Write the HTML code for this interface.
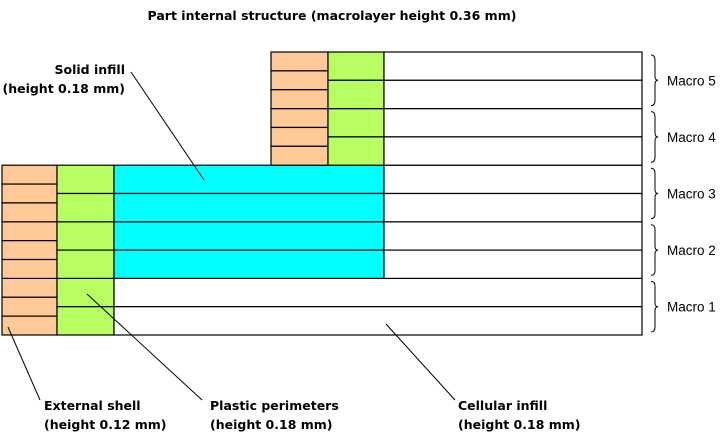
<!DOCTYPE html>
<html><head><meta charset="utf-8"><style>
html,body{margin:0;padding:0;background:#fff;}
svg{display:block;font-family:"DejaVu Sans","Liberation Sans",sans-serif;}
</style></head><body>
<svg id="chart" width="722" height="441" viewBox="0 0 722 441">
<text x="332" y="20" text-anchor="middle" font-size="12.5" font-weight="bold">Part internal structure (macrolayer height 0.36 mm)</text>
<g id="blocks"></g>
<g id="braces"></g>
<g font-size="12.5">
<line x1="131" y1="72" x2="204" y2="180" stroke="#000" stroke-width="1"/>
<text x="125" y="74" text-anchor="end" font-weight="bold">Solid infill</text>
<text x="125" y="93" text-anchor="end" font-weight="bold">(height 0.18 mm)</text>
<line x1="8" y1="327" x2="40" y2="400" stroke="#000"/>
<text x="44" y="410" font-weight="bold">External shell</text>
<text x="44" y="429" font-weight="bold">(height 0.12 mm)</text>
<line x1="87" y1="294" x2="202" y2="400" stroke="#000"/>
<text x="210" y="410" font-weight="bold">Plastic perimeters</text>
<text x="210" y="429" font-weight="bold">(height 0.18 mm)</text>
<line x1="386" y1="324" x2="455" y2="400" stroke="#000"/>
<text x="458" y="410" font-weight="bold">Cellular infill</text>
<text x="458" y="429" font-weight="bold">(height 0.18 mm)</text>
</g>
</svg>
<script>
const macroLabels = ["Macro 1","Macro 2","Macro 3","Macro 4","Macro 5"];
const macroStartX = [2, 2, 2, 271, 271];
const macroHasSolid = [false, true, true, false, false];
const shellPerMacro = [3,3,3,3,3];
const infillPerMacro = [2,2,2,2,2];
const NS = "http://www.w3.org/2000/svg";
const yTop = 52, yBottom = 335, mh = (yBottom - yTop) / macroLabels.length;
const xGreen = 57, xCyan = 114, xWhite = 384, xRight = 642;
const g = document.getElementById("blocks");
const bg = document.getElementById("braces");
function rect(x, y, w, h, fill, name) {
  const r = document.createElementNS(NS, "rect");
  r.setAttribute("x", x); r.setAttribute("y", y);
  r.setAttribute("width", w); r.setAttribute("height", h);
  r.setAttribute("fill", fill); r.setAttribute("stroke", "#000"); r.setAttribute("stroke-width", "1.2");
  
  
  g.appendChild(r);
}
macroLabels.forEach((lab, i) => {
  const y0 = yBottom - (i + 1) * mh;
  const xs = macroStartX[i];
  const xg = xs === 2 ? xGreen : 328;
  const xc = xs === 2 ? xCyan : xWhite;
  const sh = mh / shellPerMacro[i];
  for (let k = 0; k < shellPerMacro[i]; k++) rect(xs, y0 + k * sh, xg - xs, sh, "#fdca97", "external-shell-layer");
  const ih = mh / infillPerMacro[i];
  for (let k = 0; k < infillPerMacro[i]; k++) {
    rect(xg, y0 + k * ih, xc - xg, ih, "#b8fd61", "plastic-perimeter-layer");
    if (macroHasSolid[i]) {
      rect(xc, y0 + k * ih, xWhite - xc, ih, "#00ffff", "solid-infill-layer");
      rect(xWhite, y0 + k * ih, xRight - xWhite, ih, "#fff", "cellular-infill-layer");
    } else {
      rect(xc, y0 + k * ih, xRight - xc, ih, "#fff", "cellular-infill-layer");
    }
  }
  const b = document.createElementNS(NS, "path");
  const a = y0 + 3, e = y0 + mh - 3, m = (a + e) / 2;
  b.setAttribute("d", `M651 ${a} Q655 ${a} 655 ${a+5} L655 ${m-4} Q655 ${m} 658 ${m} Q655 ${m} 655 ${m+4} L655 ${e-5} Q655 ${e} 651 ${e}`);
  b.setAttribute("fill", "none"); b.setAttribute("stroke", "#000");
  
  
  bg.appendChild(b);
  const t = document.createElementNS(NS, "text");
  t.setAttribute("x", 667); t.setAttribute("y", y0 + mh / 2 + 5);
  t.setAttribute("font-size", "13.5");
  t.setAttribute("font-family", "Liberation Sans, sans-serif");
  t.textContent = lab;
  
  
  bg.appendChild(t);
});
</script>
</body></html>
